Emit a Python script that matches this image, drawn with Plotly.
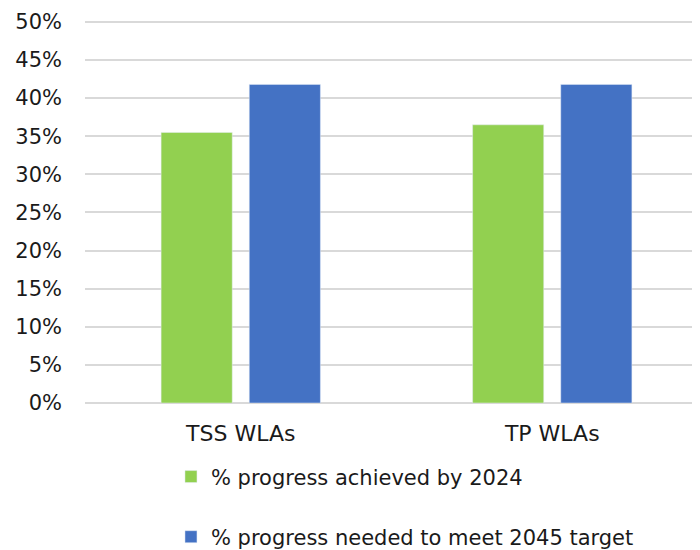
import plotly.graph_objects as go

categories = ["TSS WLAs", "TP WLAs"]
achieved_2024 = [35.5, 36.5]
needed_2045 = [41.8, 41.8]
series_names = ["% progress achieved by 2024", "% progress needed to meet 2045 target"]
tick_vals = [0, 5, 10, 15, 20, 25, 30, 35, 40, 45, 50]
tick_text = [f"{v}%" for v in tick_vals]

FONT = "DejaVu Sans"
fig = go.Figure()
fig.add_trace(go.Bar(x=categories, y=achieved_2024, name=series_names[0],
                     marker_color="#92D050", legend="legend"))
fig.add_trace(go.Bar(x=categories, y=needed_2045, name=series_names[1],
                     marker_color="#4472C4", legend="legend2"))

legend_common = dict(orientation="v", xanchor="left", yanchor="middle",
                     font=dict(size=21), itemwidth=30,
                     bgcolor="rgba(0,0,0,0)")
fig.update_layout(
    width=700, height=550,
    margin=dict(l=77, r=0, t=12, b=155),
    plot_bgcolor="white", paper_bgcolor="white",
    barmode="group", bargap=0.434, bargroupgap=0.193,
    font=dict(family=FONT, size=20, color="#1a1a1a"),
    xaxis=dict(range=[-0.5, 1.5], showgrid=False, showline=False, ticks="",
               tickfont=dict(size=22), ticklabelstandoff=15, automargin=False),
    yaxis=dict(range=[0, 50.25], tickvals=tick_vals, ticktext=tick_text,
               showgrid=True, gridcolor="#d9d9d9", gridwidth=2,
               zeroline=True, zerolinecolor="#d9d9d9", zerolinewidth=2,
               ticks="", ticklabelstandoff=22, tickfont=dict(size=21),
               automargin=False),
    legend=dict(x=0.138, y=-0.193, **legend_common),
    legend2=dict(x=0.138, y=-0.35, **legend_common),
    showlegend=True,
)
fig.write_html("out.html")
